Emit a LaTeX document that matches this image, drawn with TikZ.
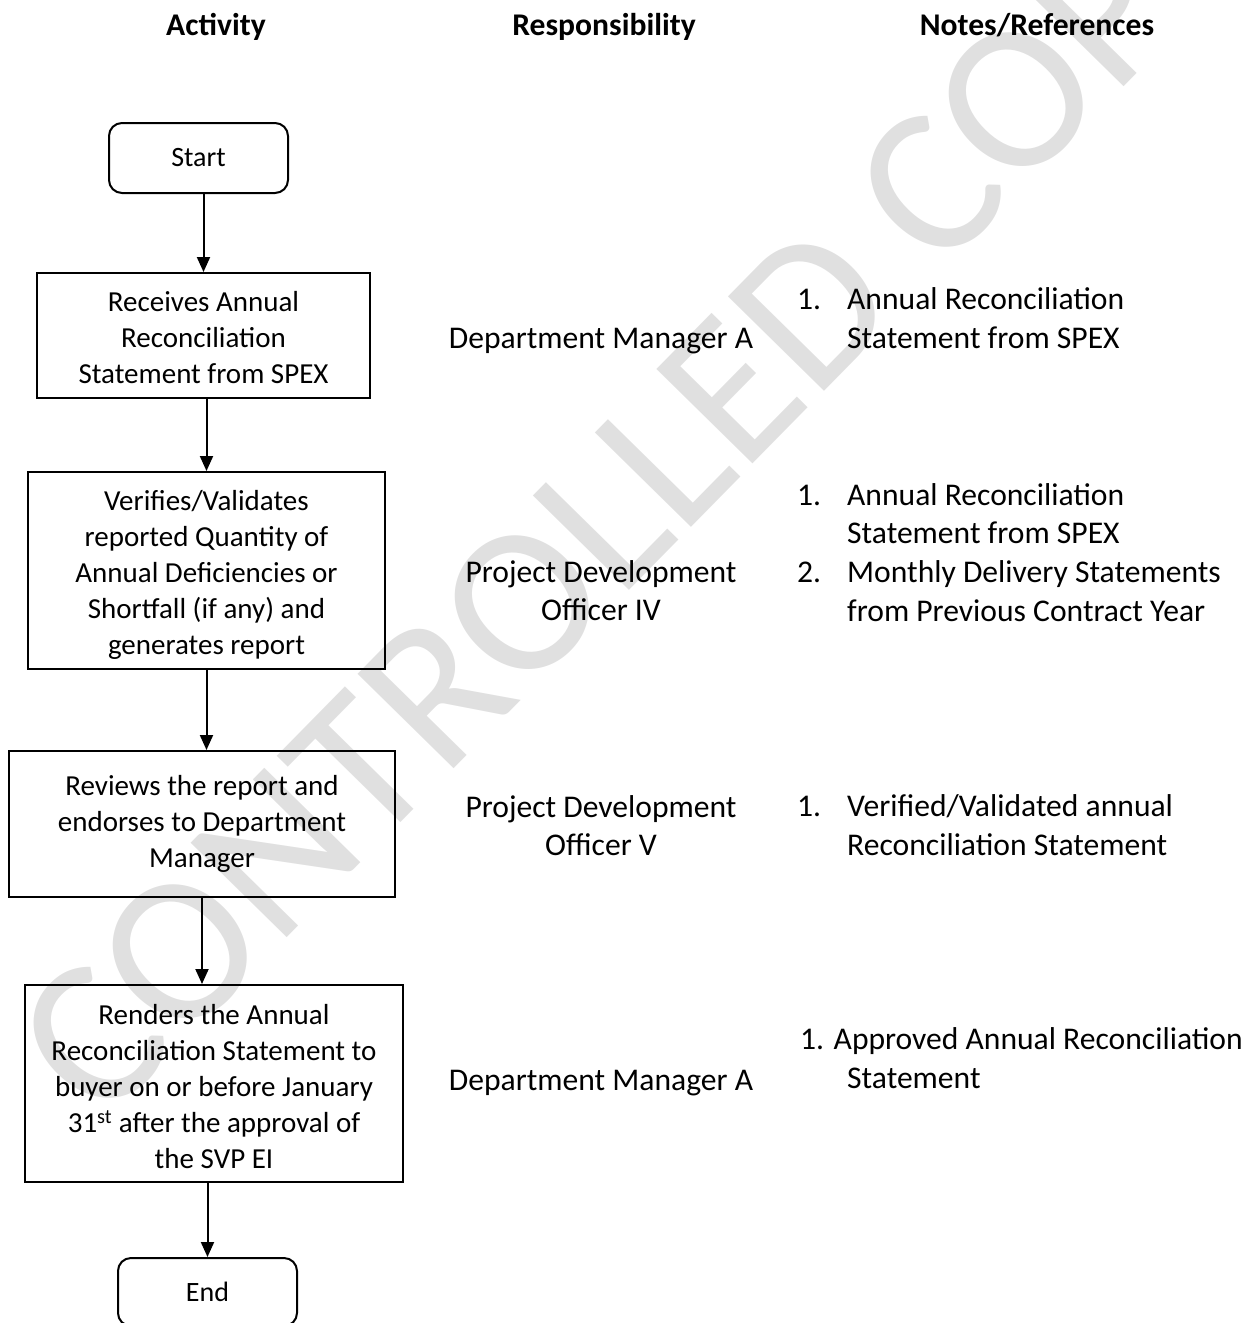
\documentclass[tikz,border=0pt]{standalone}
\usepackage{fontspec}
\setmainfont{Carlito}
\usetikzlibrary{arrows.meta}
\newcommand\numlab[1]{\makebox[50pt][l]{#1}}
\newcommand\numind{\hspace*{50pt}}
\begin{document}
\begin{tikzpicture}[x=1pt,y=-1pt,
  box/.style={draw, line width=2pt, align=flush center, inner sep=0pt, font=\fontsize{29}{36}\selectfont},
  term/.style={draw, line width=2pt, rounded corners=13pt, inner sep=0pt, minimum width=179pt, font=\fontsize{28}{34}\selectfont},
  flow/.style={line width=2pt, -{Triangle[width=13pt,length=15pt]}},
  hdr/.style={font=\fontsize{31.6}{38.6}\selectfont\bfseries, anchor=base, inner sep=0pt},
  resp/.style={font=\fontsize{31.6}{38}\selectfont, align=flush center, anchor=base, inner sep=0pt},
  note/.style={font=\fontsize{31.6}{38.6}\selectfont, align=flush left, anchor=base west, inner sep=0pt},
  wm/.style={text=black!12, font=\fontsize{210}{210}\selectfont, rotate=45.5, inner sep=0pt}
]
\useasboundingbox (0,0) rectangle (1258,1323);
\clip (0,0) rectangle (1258,1323);

% watermark
\node[wm] (wm) at (633,490) {CONTROLLED COPY};

% headers
\node[hdr] (h1) at (216,35) {Activity};
\node[hdr] (h2) at (604,35) {Responsibility};
\node[hdr] (h3) at (1037,35) {Notes/References};

% activity column
\node[term, minimum height=70pt] (s) at (198.5,158) {Start};
\node[box, minimum width=333pt, minimum height=125pt, text width=325pt] (b1) at (203.5,335.5)
  {\rule{0pt}{25pt}Receives Annual\\Reconciliation\\Statement from SPEX};
\node[box, minimum width=357pt, minimum height=197pt, text width=349pt] (b2) at (206.5,570.5)
  {\rule{0pt}{28pt}Verifies/Validates\\reported Quantity of\\Annual Deficiencies or\\Shortfall (if any) and\\generates report};
\node[box, minimum width=386pt, minimum height=146pt, text width=378pt] (b3) at (202,824)
  {Reviews the report and\\endorses to Department\\Manager};
\node[box, minimum width=378pt, minimum height=197pt, text width=370pt] (b4) at (214,1083.5)
  {\rule{0pt}{27pt}Renders the Annual\\Reconciliation Statement to\\buyer on or before January\\31\textsuperscript{st} after the approval of\\the SVP EI};
\node[term, minimum height=68pt] (e) at (207.5,1292) {End};

\draw[flow] (b1.north |- s.south) -- (b1.north);
\draw[flow] (b2.north |- b1.south) -- (b2.north);
\draw[flow] (b2.south) -- (b2.south |- b3.north);
\draw[flow] (b3.south) -- (b3.south |- b4.north);
\draw[flow] (e.north |- b4.south) -- (e.north);

% responsibility column
\node[resp] (r1) at (601,348) {Department Manager A};
\node[resp] (r2) at (601,620) {Project Development\\Officer IV};
\node[resp] (r3) at (601,855) {Project Development\\Officer V};
\node[resp] (r4) at (601,1090) {Department Manager A};

% notes column
\node[note] (n1) at (797,348) {\numlab{1.}Annual Reconciliation\\\numind Statement from SPEX};
\node[note] (n2) at (797,621) {\numlab{1.}Annual Reconciliation\\\numind Statement from SPEX\\\numlab{2.}Monthly Delivery Statements\\\numind from Previous Contract Year};
\node[note] (n3) at (797,855) {\numlab{1.}Verified/Validated annual\\\numind Reconciliation Statement};
\node[note] (n4) at (800,1088) {1. Approved Annual Reconciliation\\\hspace*{47pt}Statement};
\end{tikzpicture}
\end{document}
